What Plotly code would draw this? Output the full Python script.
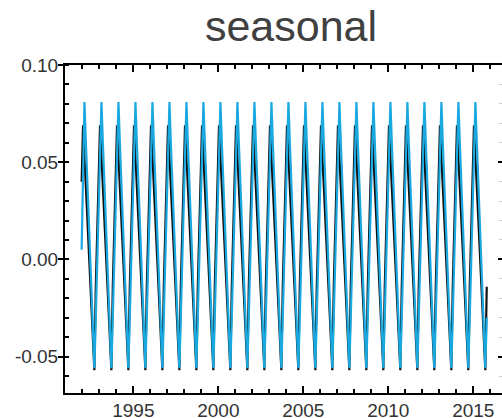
import numpy as np
import plotly.graph_objects as go

# Seasonal component (monthly values, Jan..Dec)
months = ["Jan", "Feb", "Mar", "Apr", "May", "Jun", "Jul", "Aug", "Sep", "Oct", "Nov", "Dec"]
seasonal_blue = [0.053, 0.081, 0.060, 0.041, 0.021, 0.002, -0.018, -0.037, -0.056, -0.030, -0.002, 0.026]
seasonal_black = [0.069, 0.053, 0.037, 0.021, 0.006, -0.010, -0.026, -0.042, -0.057, -0.014, 0.012, 0.040]
first_blue_value = 0.005  # first blue sample (Dec 1991)

start_year, start_month = 1991, 11   # Dec 1991 (0-based month index)
end_year, end_month = 2015, 9        # Oct 2015

x_tick_labels = ["1995", "2000", "2005", "2010", "2015"]
y_tick_labels = ["-0.05", "0.00", "0.05", "0.10"]

# build monthly time stamps (decimal year at mid-month)
t, mi = [], []
y, m = start_year, start_month
while (y, m) <= (end_year, end_month):
    t.append(y + (m + 0.5) / 12.0)
    mi.append(m)
    m += 1
    if m == 12:
        m = 0
        y += 1
t = np.array(t)
blue = np.array([seasonal_blue[k] for k in mi])
black = np.array([seasonal_black[k] for k in mi])
blue[0] = first_blue_value

fig = go.Figure()
fig.add_trace(go.Scatter(x=t, y=black, mode="lines",
                         line=dict(color="#111111", width=2.2), showlegend=False))
fig.add_trace(go.Scatter(x=t, y=blue, mode="lines",
                         line=dict(color="#1aa8e0", width=2.2), showlegend=False))
# invisible trace to carry the right-hand ticks
fig.add_trace(go.Scatter(x=[t[0]], y=[blue[0]], yaxis="y2", mode="lines",
                         line=dict(width=0), showlegend=False, hoverinfo="skip"))

tick_font = dict(family="Liberation Sans, Arial", size=19, color="#333333")

fig.update_layout(
    width=502, height=418,
    margin=dict(l=65, r=0, t=65, b=25, autoexpand=False),
    paper_bgcolor="white", plot_bgcolor="white",
    title=dict(text="seasonal", font=dict(family="Liberation Sans, Arial", size=43, color="#404040"),
               x=291 / 502, xanchor="center", xref="container",
               y=1 - 26 / 418, yanchor="middle", yref="container"),
    xaxis=dict(range=[1990.98, 2016.69], tickmode="array", automargin=False,
               tickvals=[float(v) for v in x_tick_labels], ticktext=x_tick_labels,
               showline=True, linecolor="black", linewidth=2, mirror="ticks",
               ticks="inside", ticklen=7, tickwidth=2, tickcolor="black",
               minor=dict(dtick=1, tick0=1990, ticks="inside", ticklen=4, tickwidth=1.5, tickcolor="black"),
               showgrid=False, zeroline=False, tickfont=tick_font, ticklabelstandoff=-1),
    yaxis=dict(range=[-0.0687, 0.1], tickmode="array", automargin=False,
               tickvals=[float(v) for v in y_tick_labels], ticktext=y_tick_labels,
               showline=True, linecolor="black", linewidth=2, mirror=False,
               ticks="outside", ticklen=5, tickwidth=2, tickcolor="black",
               minor=dict(dtick=0.01, tick0=0, ticks="inside", ticklen=4, tickwidth=1.5, tickcolor="black"),
               showgrid=False, zeroline=False, tickfont=tick_font, ticklabelstandoff=-4),
    yaxis2=dict(range=[-0.0687, 0.1], overlaying="y", side="right", automargin=False,
                tickmode="array", tickvals=[float(v) for v in y_tick_labels],
                showticklabels=False, showline=False,
                ticks="inside", ticklen=4, tickwidth=2, tickcolor="black",
                minor=dict(dtick=0.01, tick0=0, ticks="inside", ticklen=3, tickwidth=1, tickcolor="#cccccc"),
                showgrid=False, zeroline=False),
)

fig.write_html("out.html")
